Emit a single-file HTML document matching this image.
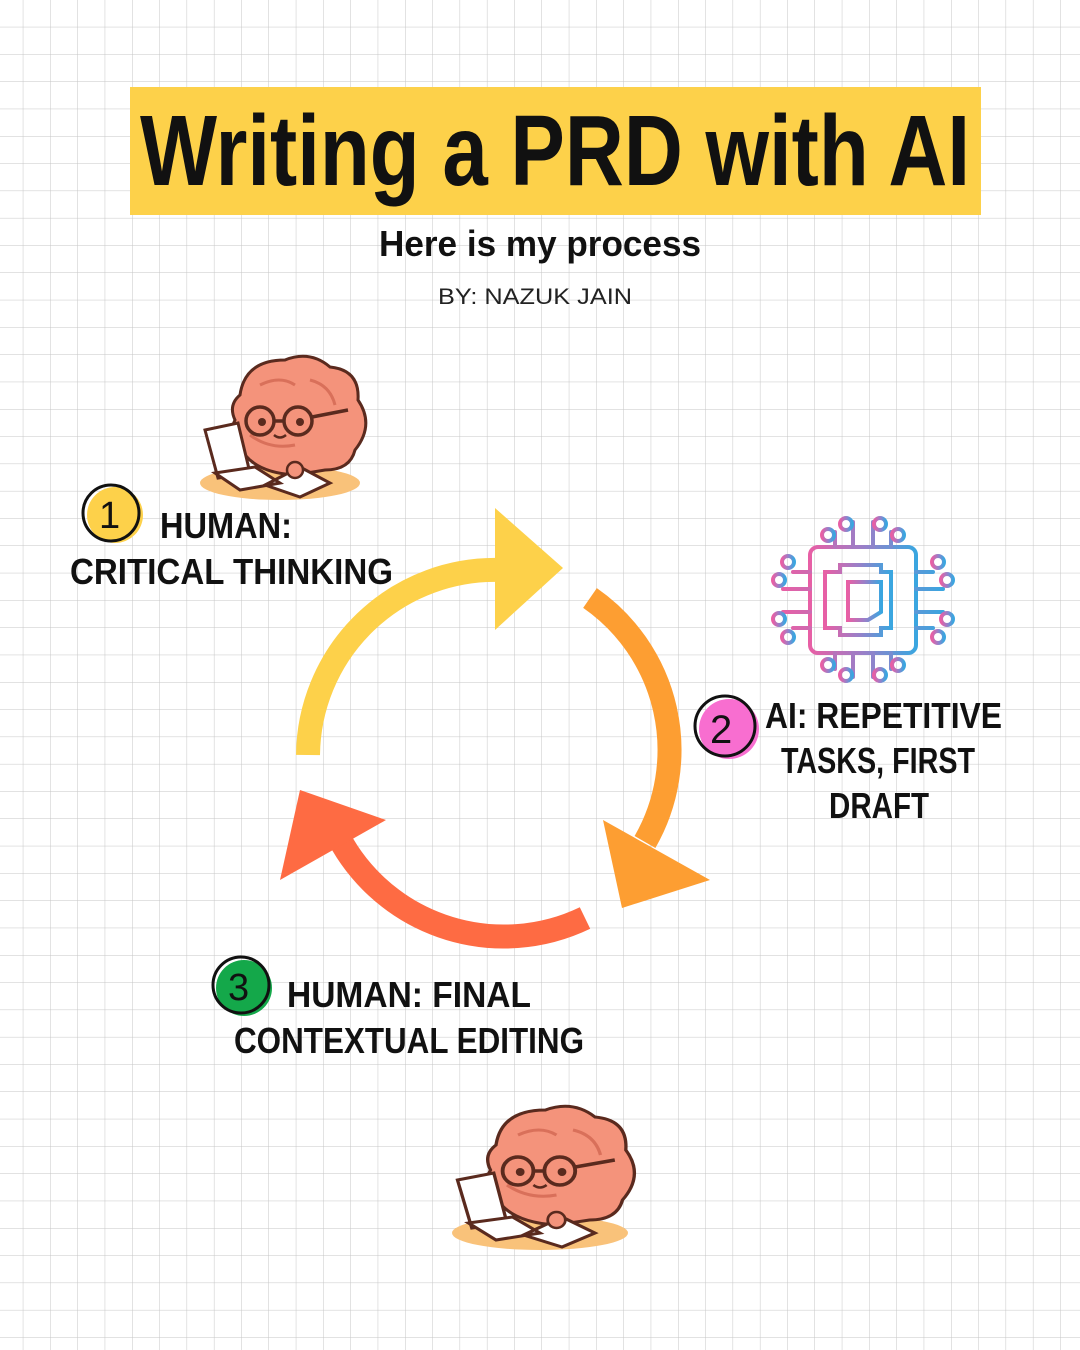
<!DOCTYPE html>
<html><head><meta charset="utf-8"><style>
html,body{margin:0;padding:0;background:#fff}
svg{display:block}
.h{font-family:"Liberation Sans",sans-serif;font-weight:bold;fill:#111}
</style></head><body>
<svg width="1080" height="1350" viewBox="0 0 1080 1350" xmlns="http://www.w3.org/2000/svg">
<defs>
<pattern id="g" x="-4" y="0" width="27.3" height="27.3" patternUnits="userSpaceOnUse">
<path d="M27.3 0V27.3M0 27.3H27.3" stroke="#c6c6c6" stroke-width="1" fill="none"/>
</pattern>
<linearGradient id="cg" x1="0" x2="1" y1="0" y2="0"><stop offset="0" stop-color="#e85fa5"/><stop offset="0.5" stop-color="#9a7fc8"/><stop offset="1" stop-color="#3aa6e0"/></linearGradient>
<g id="brain">
<ellipse cx="80" cy="128" rx="80" ry="17" fill="#f9c27a"/>
<path d="M40 40 Q45 5 85 5 Q110 -5 130 12 Q160 15 158 45 Q175 70 155 95 Q150 115 125 115 L95 120 Q60 118 45 100 Q25 85 35 65 Q28 50 40 40Z" fill="#f4937b" stroke="#5a2a1e" stroke-width="3"/>
<path d="M60 30 Q80 20 95 30 M110 25 Q130 30 135 50 M50 80 Q70 95 95 90" stroke="#d9705a" stroke-width="3" fill="none"/>
<circle cx="60" cy="66" r="14" fill="none" stroke="#5a2a1e" stroke-width="3.5"/>
<circle cx="98" cy="66" r="14" fill="none" stroke="#5a2a1e" stroke-width="3.5"/>
<path d="M74 66H84M112 62L148 55" stroke="#5a2a1e" stroke-width="3.5"/>
<circle cx="62" cy="67" r="4" fill="#5a2a1e"/><circle cx="100" cy="67" r="4" fill="#5a2a1e"/>
<path d="M74 80Q80 85 86 80" stroke="#5a2a1e" stroke-width="2.5" fill="none"/>
<path d="M5 75 L38 68 L50 118 L18 123Z" fill="#fff" stroke="#5a2a1e" stroke-width="3"/>
<path d="M15 118 L55 112 L80 128 L40 135Z M65 130 L100 112 L130 128 L100 142Z" fill="#fff" stroke="#5a2a1e" stroke-width="3"/>
<circle cx="95" cy="115" r="8" fill="#f4937b" stroke="#5a2a1e" stroke-width="2.5"/>
</g>
</defs>
<rect width="1080" height="1350" fill="#fff"/>
<rect width="1080" height="1350" fill="url(#g)"/>

<rect x="130" y="87" width="851" height="128" fill="#fdd14a"/>
<text x="140" y="185" class="h" font-size="100" textLength="830" lengthAdjust="spacingAndGlyphs">Writing a PRD with AI</text>
<text x="379" y="256" class="h" font-size="36" textLength="322" lengthAdjust="spacingAndGlyphs">Here is my process</text>
<text x="438" y="304" font-family="Liberation Sans,sans-serif" font-size="22" fill="#222" textLength="194" lengthAdjust="spacingAndGlyphs">BY: NAZUK JAIN</text>

<use href="#brain" x="200" y="355"/>
<use href="#brain" transform="translate(452,1105) scale(1.1,1.0)"/>

<!-- cycle arrows -->
<path d="M308 755 A187 187 0 0 1 500 570" fill="none" stroke="#fdd14a" stroke-width="24"/>
<path d="M495 508 L563 568 L495 630Z" fill="#fdd14a"/>
<path d="M590 598 A185 185 0 0 1 645 842" fill="none" stroke="#fd9e32" stroke-width="24"/>
<path d="M603 820 L710 880 L622 908Z" fill="#fd9e32"/>
<path d="M585 918 A187 187 0 0 1 335 830" fill="none" stroke="#fe6b43" stroke-width="24"/>
<path d="M280 880 L300 790 L386 820Z" fill="#fe6b43"/>

<!-- chip -->
<g transform="translate(773,517)" fill="none" stroke="url(#cg)" stroke-width="4" stroke-linecap="round">
<rect x="37" y="30" width="106" height="106" rx="8"/>
<path d="M52 55H67V48H108V55H118V111H108V118H67V111H52Z"/>
<path d="M75 65H108V95L95 103H75Z"/>
<path d="M37 55H20M37 72H10M37 95H10M37 111H20M143 55H160M143 72H170M143 95H170M143 111H160M62 30V15M80 30V5M100 30V5M118 30V15M62 136V152M80 136V160M100 136V160M118 136V152"/>
<circle cx="15" cy="45" r="6"/><circle cx="6" cy="63" r="6"/><circle cx="6" cy="102" r="6"/><circle cx="15" cy="120" r="6"/>
<circle cx="165" cy="45" r="6"/><circle cx="174" cy="63" r="6"/><circle cx="174" cy="102" r="6"/><circle cx="165" cy="120" r="6"/>
<circle cx="55" cy="18" r="6"/><circle cx="73" cy="7" r="6"/><circle cx="107" cy="7" r="6"/><circle cx="125" cy="18" r="6"/>
<circle cx="55" cy="148" r="6"/><circle cx="73" cy="158" r="6"/><circle cx="107" cy="158" r="6"/><circle cx="125" cy="148" r="6"/>
</g>

<!-- badges -->
<circle cx="115" cy="515" r="28" fill="#fdd14a"/>
<circle cx="111" cy="513" r="28" fill="none" stroke="#111" stroke-width="3"/>
<text x="99" y="528" font-family="Liberation Sans,sans-serif" font-size="38" fill="#111">1</text>
<circle cx="729" cy="729" r="30" fill="#f86ed0"/>
<circle cx="725" cy="726" r="30" fill="none" stroke="#111" stroke-width="3"/>
<text x="710" y="743" font-family="Liberation Sans,sans-serif" font-size="40" fill="#111">2</text>
<circle cx="244" cy="988" r="28" fill="#14a84a"/>
<circle cx="241" cy="985" r="28" fill="none" stroke="#111" stroke-width="3"/>
<text x="228" y="1000" font-family="Liberation Sans,sans-serif" font-size="38" fill="#111">3</text>

<text x="160" y="538" class="h" font-size="36" textLength="132" lengthAdjust="spacingAndGlyphs">HUMAN:</text>
<text x="70" y="584" class="h" font-size="36" textLength="323" lengthAdjust="spacingAndGlyphs">CRITICAL THINKING</text>
<text x="765" y="728" class="h" font-size="36" textLength="237" lengthAdjust="spacingAndGlyphs">AI: REPETITIVE</text>
<text x="781" y="773" class="h" font-size="36" textLength="194" lengthAdjust="spacingAndGlyphs">TASKS, FIRST</text>
<text x="829" y="818" class="h" font-size="36" textLength="100" lengthAdjust="spacingAndGlyphs">DRAFT</text>
<text x="287" y="1007" class="h" font-size="36" textLength="244" lengthAdjust="spacingAndGlyphs">HUMAN: FINAL</text>
<text x="234" y="1053" class="h" font-size="36" textLength="350" lengthAdjust="spacingAndGlyphs">CONTEXTUAL EDITING</text>
</svg>
</body></html>
